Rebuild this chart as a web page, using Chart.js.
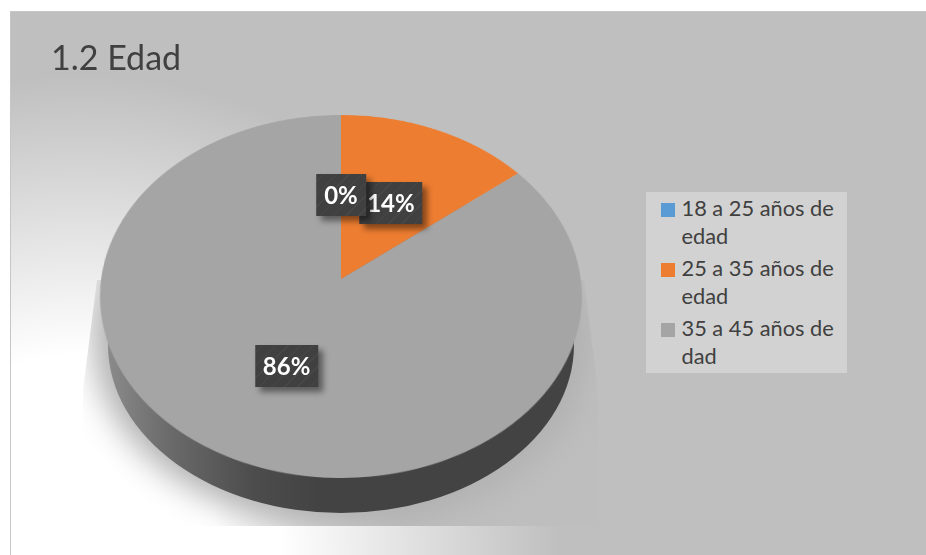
<!DOCTYPE html>
<html lang="es">
<head>
<meta charset="utf-8">
<title>1.2 Edad</title>
<script src="https://cdn.jsdelivr.net/npm/chart.js@4"></script>
<style>
html, body { margin: 0; padding: 0; background: #fff; }
#stage { position: relative; width: 926px; height: 555px; overflow: hidden; font-family: Lato, sans-serif; }
#stage canvas { position: absolute; left: 0; top: 0; }
#title { position: absolute; left: 51px; top: 35px; font-size: 34px; line-height: 44px; color: #404040; }
#legend { position: absolute; left: 646px; top: 192px; width: 201px; height: 181px; background: #d2d2d2; color: #404040; font-size: 21.8px; line-height: 28px; }
.item { position: absolute; left: 35.5px; width: 160px; }
.swatch { position: absolute; left: -20.5px; top: 9px; width: 14px; height: 14px; }
.tag { position: absolute; transform: translate(-50%, -50%); padding: 0 8px; height: 42px; line-height: 42px; font-size: 24px; font-weight: 700; color: #fff;
  background: repeating-linear-gradient(135deg, #404040 0 5px, #484848 5px 6px, #404040 6px 9px);
  box-shadow: 5px 5px 6px rgba(0, 0, 0, .45); white-space: nowrap; }
</style>
</head>
<body>
<div id="stage">
  <canvas id="backdrop" width="926" height="555"></canvas>
  <canvas id="pie" style="width:482px;height:482px"></canvas>
  <div id="title">1.2 Edad</div>
  <div id="legend"></div>
</div>
<script>
const categories = ["18 a 25 años de edad", "25 a 35 años de edad", "35 a 45 años de dad"];
const percents = [0, 14.3, 85.7];
const sliceColors = ["#5b9bd5", "#ed7d31", "#a5a5a5"];

// rim of the tilted disc as measured on the page
const apexX = 341, apexY = 279, rimTop = 115, rimBottom = 478, rimRx = 241;
const radius = 241;

// perspective of the disc: k, b, a solve for rim top, rim bottom and apex
const k = (2 * apexY - rimTop - rimBottom) / (rimBottom - rimTop);
const b = apexY - rimTop + rimTop * k;
const rimCy = (rimTop + rimBottom) / 2;
const a = (b - k * apexY) * rimRx / Math.sqrt(Math.pow(b - k * rimCy, 2) - Math.pow(rimCy - apexY, 2));

function project(px, py) {
    const u = (px - radius) / radius, v = (py - radius) / radius;
    const w = 1 + k * v;
    return { x: apexX + a * u / w, y: (b * v + apexY) / w };
}

function drawBackdrop() {
    const ctx = document.getElementById("backdrop").getContext("2d");
    ctx.fillStyle = "#fff";
    ctx.fillRect(0, 0, 926, 555);

    const glow = ctx.createRadialGradient(80, 555, 200, 80, 555, 480);
    glow.addColorStop(0, "#ffffff");
    glow.addColorStop(1, "#bfbfbf");
    ctx.fillStyle = glow;
    ctx.fillRect(11, 12, 915, 543);
    ctx.fillStyle = "#c6c6c6";
    ctx.fillRect(10, 11, 916, 1);
    ctx.fillRect(10, 11, 1, 544);

    // soft shadow, cut off like the picture effect in the reference
    ctx.save();
    ctx.beginPath();
    ctx.moveTo(97, 280); ctx.lineTo(83, 390); ctx.lineTo(83, 526);
    ctx.lineTo(598, 526); ctx.lineTo(598, 390); ctx.lineTo(584, 280);
    ctx.closePath();
    ctx.clip();
    const under = ctx.createLinearGradient(215, 0, 400, 0);
    under.addColorStop(0, "rgba(190,190,190,0)");
    under.addColorStop(1, "rgba(190,190,190,1)");
    ctx.fillStyle = under;
    ctx.fillRect(83, 400, 515, 126);
    ctx.filter = "blur(16px)";
    ctx.fillStyle = "#b0b0b0";
    ctx.beginPath();
    ctx.ellipse(apexX, 340, 248, 185, 0, 0, Math.PI * 2);
    ctx.fill();
    ctx.restore();

    // side wall of the disc, only its lower edge shows past the top face
    const wall = ctx.createLinearGradient(105, 0, 320, 0);
    wall.addColorStop(0, "#8c8c8c");
    wall.addColorStop(0.3, "#6a6a6a");
    wall.addColorStop(0.7, "#4c4c4c");
    wall.addColorStop(1, "#434343");
    ctx.fillStyle = wall;
    ctx.beginPath();
    ctx.ellipse(apexX, 345, 233, 168, 0, 0, Math.PI * 2);
    ctx.fill();
}

drawBackdrop();

const pieCanvas = document.getElementById("pie");
const chart = new Chart(pieCanvas, {
    type: "pie",
    data: {
        labels: categories,
        datasets: [{ data: percents, backgroundColor: sliceColors, borderWidth: 0 }]
    },
    options: {
        responsive: false,
        animation: false,
        devicePixelRatio: 2,
        layout: { padding: 0 },
        plugins: { legend: { display: false }, tooltip: { enabled: false } }
    }
});

// tilt the drawn pie with the same perspective used by project()
const s = 1 / radius;
pieCanvas.style.transformOrigin = "0 0";
pieCanvas.style.transform = "matrix3d(" + [
    a * s, 0, 0, 0,
    apexX * k * s, b * s, 0, k * s,
    0, 0, 1, 0,
    apexX * (1 - k) - a, apexY - b, 0, 1 - k
].join(",") + ")";

const stage = document.getElementById("stage");
const arcs = chart.getDatasetMeta(0).data;
for (let i = percents.length - 1; i >= 0; i--) {
    const pos = arcs[i].tooltipPosition();
    const p = project(pos.x, pos.y);
    const tag = document.createElement("div");
    tag.className = "tag";
    tag.textContent = Math.round(percents[i]) + "%";
    tag.style.left = p.x + "px";
    tag.style.top = (p.y + 2) + "px";
    tag.style.zIndex = 10 - i;
    stage.appendChild(tag);
}

const legendBox = document.getElementById("legend");
categories.forEach((name, i) => {
    const item = document.createElement("div");
    item.className = "item";
    item.style.top = (2 + i * 60) + "px";
    item.textContent = name;
    const swatch = document.createElement("span");
    swatch.className = "swatch";
    swatch.style.background = sliceColors[i];
    item.appendChild(swatch);
    legendBox.appendChild(item);
});
</script>
</body>
</html>
